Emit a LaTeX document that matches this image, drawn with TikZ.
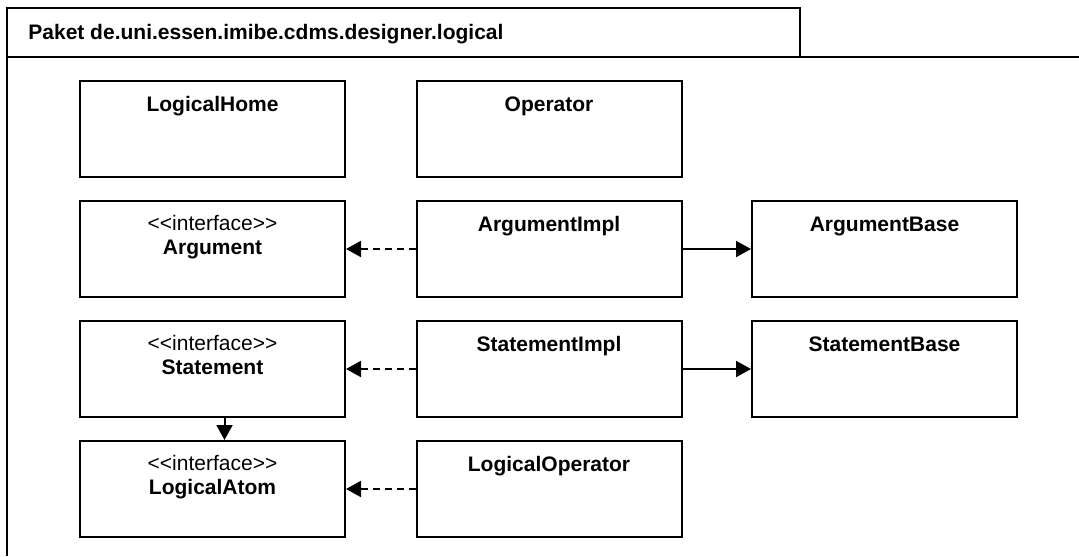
\documentclass[tikz,border=0pt]{standalone}
\usepackage{fontspec}
\setmainfont{Liberation Sans}[Ligatures=TeXOff]
\usetikzlibrary{arrows.meta}

\newcommand{\umlfont}{\fontsize{10.5pt}{12.6pt}\selectfont}

\tikzset{
  classbox/.style={draw, line width=1pt, minimum width=132.5pt, minimum height=48pt, anchor=north west, inner sep=0pt},
  classname/.style={anchor=base, font=\umlfont\bfseries, inner sep=0pt},
  stereotype/.style={anchor=base, font=\umlfont, inner sep=0pt},
  realizes/.style={-{Triangle[length=7.5pt,width=8pt]}, line width=1pt, dash pattern=on 3.5pt off 2.5pt},
  uses/.style={-{Triangle[length=7.5pt,width=8pt]}, line width=1pt},
}

\begin{document}
\begin{tikzpicture}[x=0.5pt, y=-0.5pt]
    % Page area
    \fill[white] (0,0) rectangle (1079,556);
    \useasboundingbox (0,0) rectangle (1079,556);

    % Package tab and frame
    \node[draw, line width=1pt, anchor=north west, minimum width=396.25pt, minimum height=24.5pt, inner sep=0pt, outer sep=0pt] (tab) at (7,8) {};
    \node[anchor=base west, font=\umlfont\bfseries, inner sep=0pt] (pkgtitle) at ([xshift=10.5pt, yshift=-16pt]tab.north west) {Paket de.uni.essen.imibe.cdms.designer.logical};
    \draw[line width=1pt] (tab.south west) -- (7,556);
    \draw[line width=1pt] (tab.south east) -- (1079,57);

    % Classes (first column)
    \node[classbox] (home) at (79,80) {};
    \node[classname] at ([yshift=-15.75pt]home.north) {LogicalHome};

    \node[classbox] (argument) at (79,200) {};
    \node[stereotype] at ([yshift=-15pt]argument.north) {<<interface>>};
    \node[classname] at ([yshift=-27pt]argument.north) {Argument};

    \node[classbox] (statement) at (79,320) {};
    \node[stereotype] at ([yshift=-15pt]statement.north) {<<interface>>};
    \node[classname] at ([yshift=-27pt]statement.north) {Statement};

    \node[classbox] (atom) at (79,440) {};
    \node[stereotype] at ([yshift=-15pt]atom.north) {<<interface>>};
    \node[classname] at ([yshift=-27pt]atom.north) {LogicalAtom};

    % Classes (second column)
    \node[classbox] (operator) at (415.5,80) {};
    \node[classname] at ([yshift=-15.75pt]operator.north) {Operator};

    \node[classbox] (argimpl) at (415.5,200) {};
    \node[classname] at ([yshift=-15.75pt]argimpl.north) {ArgumentImpl};

    \node[classbox] (stmtimpl) at (415.5,320) {};
    \node[classname] at ([yshift=-15.75pt]stmtimpl.north) {StatementImpl};

    \node[classbox] (logop) at (415.5,440) {};
    \node[classname] at ([yshift=-15.75pt]logop.north) {LogicalOperator};

    % Classes (third column)
    \node[classbox] (argbase) at (751,200) {};
    \node[classname] at ([yshift=-15.75pt]argbase.north) {ArgumentBase};

    \node[classbox] (stmtbase) at (751,320) {};
    \node[classname] at ([yshift=-15.75pt]stmtbase.north) {StatementBase};

    % Relations
    \draw[realizes] (argimpl) -- (argument);
    \draw[realizes] (stmtimpl) -- (statement);
    \draw[realizes] (logop) -- (atom);
    \draw[uses] (argimpl) -- (argbase);
    \draw[uses] (stmtimpl) -- (stmtbase);
    \draw[uses] ([xshift=6pt]statement.south) -- ([xshift=6pt]atom.north);

  \end{tikzpicture}
\end{document}
